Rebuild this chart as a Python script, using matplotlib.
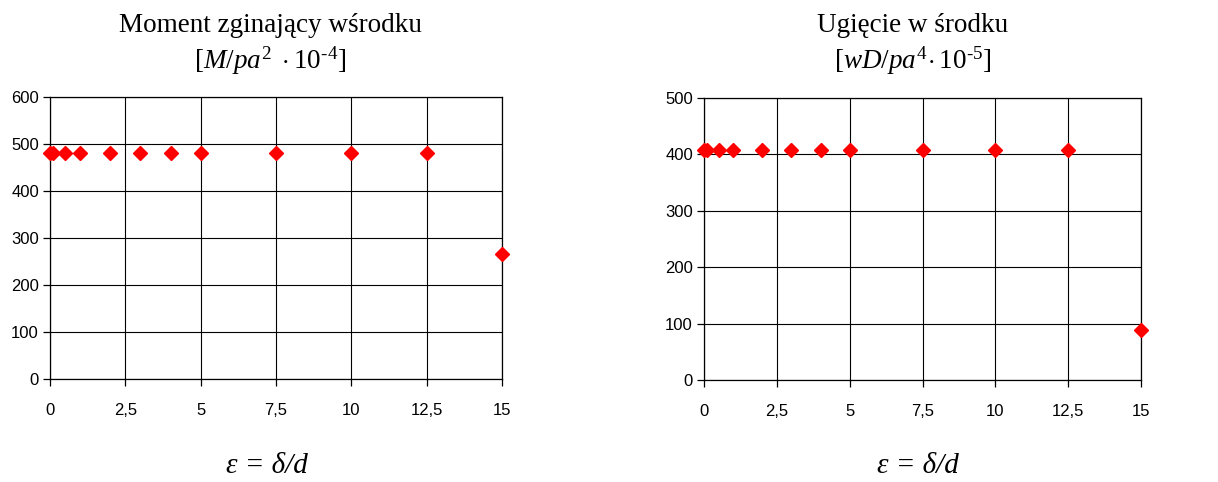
import numpy as np
import matplotlib.pyplot as plt

plt.rcParams['mathtext.fontset'] = 'custom'
plt.rcParams['mathtext.rm'] = 'Liberation Serif'
plt.rcParams['mathtext.it'] = 'Liberation Serif:italic'

eps = [0, 0.1, 0.5, 1, 2, 3, 4, 5, 7.5, 10, 12.5, 15]
moment = [481, 481, 481, 481, 481, 481, 481, 481, 481, 481, 481, 265]
ugiecie = [407, 407, 407, 407, 407, 407, 407, 407, 407, 407, 407, 88]
xticks = [0, 2.5, 5, 7.5, 10, 12.5, 15]
xticklabels = ['0', '2,5', '5', '7,5', '10', '12,5', '15']

fig = plt.figure(figsize=(12.18, 4.82), dpi=100)
ax1 = fig.add_axes([50/1218, 1-379/482, 452/1218, 282/482])
ax2 = fig.add_axes([704/1218, 1-380/482, 437/1218, 282/482])

def style(ax, ymax):
    ax.set_xlim(0, 15)
    ax.set_ylim(0, ymax)
    ax.set_xticks(xticks)
    ax.set_xticklabels(xticklabels)
    ax.set_yticks(np.arange(0, ymax + 1, 100))
    ax.grid(True, color='black', linewidth=0.8)
    ax.set_axisbelow(True)
    for s in ax.spines.values():
        s.set_linewidth(0.9)
        s.set_color('black')
    ax.tick_params(axis='both', direction='out', length=5, width=0.9,
                   labelsize=12, colors='black')
    ax.tick_params(axis='x', pad=12)
    ax.tick_params(axis='y', pad=3)
    for lab in ax.get_xticklabels() + ax.get_yticklabels():
        lab.set_fontfamily('Liberation Sans')

style(ax1, 600)
style(ax2, 500)

ax1.plot(eps, moment, 'D', color='red', ms=7.5, clip_on=False, zorder=5)
ax2.plot(eps, ugiecie, 'D', color='red', ms=7.5, clip_on=False, zorder=5)

tf = dict(fontsize=19.5, ha='center', va='center', family='Liberation Serif')
fig.text(270/1218, 1-25/482, 'Moment zginający wśrodku', **tf)
fig.text(270/1218, 1-61/482, r'$[\mathit{M/pa}^{2}\ \cdot 10^{\text{-}4}]$', **tf)
fig.text(913/1218, 1-25/482, 'Ugięcie w środku', **tf)
fig.text(913/1218, 1-61/482, r'$[\mathit{wD/pa}^{4}\!\cdot 10^{\text{-}5}]$', **tf)

lf = dict(fontsize=21, ha='center', va='center', family='Liberation Serif', style='italic')
fig.text(267/1218, 1-466/482, 'ε = δ/d', **lf)
fig.text(918/1218, 1-466/482, 'ε = δ/d', **lf)

fig.savefig('out.png', dpi=100)
